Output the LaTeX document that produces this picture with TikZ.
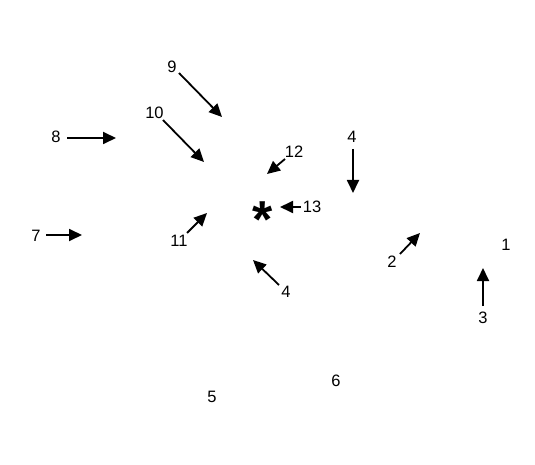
\documentclass[tikz,border=0pt]{standalone}
\usepackage{fontspec}
\setmainfont{Liberation Sans}
\usetikzlibrary{arrows.meta}
\begin{document}
\begin{tikzpicture}[x=1pt,y=-1pt,
  lab/.style={inner sep=0pt,font=\fontsize{16.5}{19}\selectfont},
  arr/.style={line width=1.8pt,-{Triangle[length=13pt,width=12pt]}},
  star/.style={inner sep=0pt,font=\fontsize{52}{56}\selectfont\bfseries}]
\useasboundingbox (0,0) rectangle (535,465);
% labels
\node[lab] (l9) at (172,67) {9};
\node[lab] (l10) at (154.5,112.5) {10};
\node[lab] (l8) at (56,137) {8};
\node[lab] (l7) at (36,236) {7};
\node[lab] (l11) at (179,241) {11};
\node[lab] (l12) at (294,152) {12};
\node[lab] (l13) at (312,207) {13};
\node[lab] (l4a) at (352,137) {4};
\node[lab] (l2) at (392,262) {2};
\node[lab] (l1) at (506,245) {1};
\node[lab] (l3) at (483,318) {3};
\node[lab] (l4b) at (286,292) {4};
\node[lab] (l6) at (336,381) {6};
\node[lab] (l5) at (212,397) {5};
\node[star] (ast) at (263,220) {*};
% arrow ends
\coordinate (s9) at (179,73);   \coordinate (t9) at (222,117);
\coordinate (s10) at (163,120); \coordinate (t10) at (204,162);
\coordinate (s8) at (67,138);   \coordinate (t8) at (116,138);
\coordinate (s7) at (46,235);   \coordinate (t7) at (82,235);
\coordinate (s11) at (187,233); \coordinate (t11) at (207,213);
\coordinate (s12) at (285,159); \coordinate (t12) at (267,174);
\coordinate (s13) at (301,207); \coordinate (t13) at (280,207);
\coordinate (s4a) at (353,149); \coordinate (t4a) at (353,193);
\coordinate (s2) at (400,254);  \coordinate (t2) at (420,233);
\coordinate (s3) at (483,306);  \coordinate (t3) at (483,268);
\coordinate (s4b) at (279,285); \coordinate (t4b) at (253,260);
\foreach \a in {9,10,8,7,11,12,13,4a,2,3,4b}
  \draw[arr] (s\a) -- (t\a);
\end{tikzpicture}
\end{document}
